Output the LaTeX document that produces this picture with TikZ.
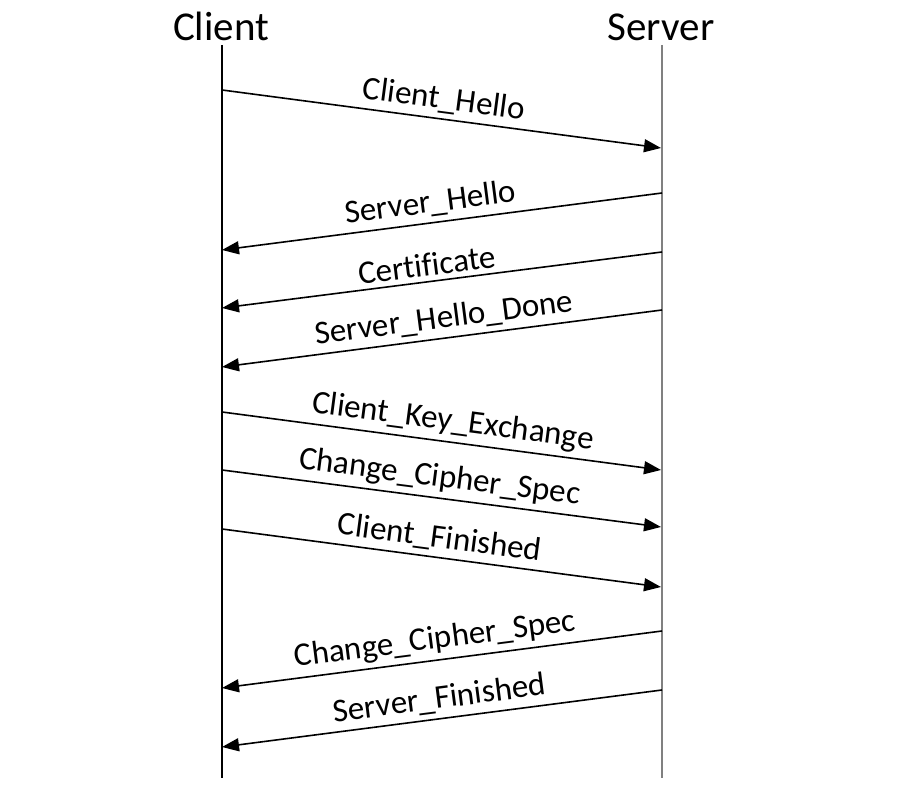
\documentclass[tikz,border=0pt]{standalone}
\usepackage{fontspec}
\setmainfont[Ligatures=NoCommon]{Carlito}
\usetikzlibrary{arrows.meta}
\begin{document}
\begin{tikzpicture}[x=1pt,y=1pt,
  head/.style={font=\fontsize{41}{46}\selectfont, anchor=base, inner sep=0pt},
  msg/.style={line width=1.6pt, -{Triangle[length=17pt,width=13pt]}},
  lbl/.style={font=\fontsize{33}{38}\selectfont, sloped, above=5pt, inner sep=0pt, midway},
  clientline/.style={line width=1.6pt, black},
  serverline/.style={line width=2.6pt, black!50}]
\useasboundingbox (0,0) rectangle (902,792);
\fill[white] (0,0) rectangle (902,792);
\node[head] (c) at (221,751) {Client};
\node[head] (s) at (661,751) {Server};
\coordinate (ctop) at (222,747);
\coordinate (cbot) at (222,14);
\coordinate (stop) at (662,747);
\coordinate (sbot) at (662,14);
\draw[clientline] (ctop) -- (cbot);
\draw[serverline] (stop) -- (sbot);
% client side points
\coordinate (c1) at (222,702);
\coordinate (c2) at (222,542);
\coordinate (c3) at (222,484);
\coordinate (c4) at (222,425);
\coordinate (c5) at (222,380);
\coordinate (c6) at (222,322);
\coordinate (c7) at (222,263);
\coordinate (c8) at (222,104);
\coordinate (c9) at (222,45);
% server side points
\coordinate (s1) at (661,644);
\coordinate (s2) at (662,599);
\coordinate (s3) at (662,540);
\coordinate (s4) at (662,482);
\coordinate (s5) at (661,322);
\coordinate (s6) at (661,265);
\coordinate (s7) at (661,205);
\coordinate (s8) at (662,161);
\coordinate (s9) at (662,102);
\draw[msg] (c1) -- node[lbl] {Client\_Hello} (s1);
\draw[msg] (s2) -- node[lbl, pos=0.52] {Server\_Hello} (c2);
\draw[msg] (s3) -- node[lbl, pos=0.53] {Certificate} (c3);
\draw[msg] (s4) -- node[lbl, pos=0.49] {Server\_Hello\_Done} (c4);
\draw[msg] (c5) -- node[lbl, pos=0.52] {Client\_Key\_Exchange} (s5);
\draw[msg] (c6) -- node[lbl, pos=0.49] {Change\_Cipher\_Spec} (s6);
\draw[msg] (c7) -- node[lbl, pos=0.49] {Client\_Finished} (s7);
\draw[msg] (s8) -- node[lbl, pos=0.51] {Change\_Cipher\_Spec} (c8);
\draw[msg] (s9) -- node[lbl] {Server\_Finished} (c9);
\end{tikzpicture}
\end{document}
